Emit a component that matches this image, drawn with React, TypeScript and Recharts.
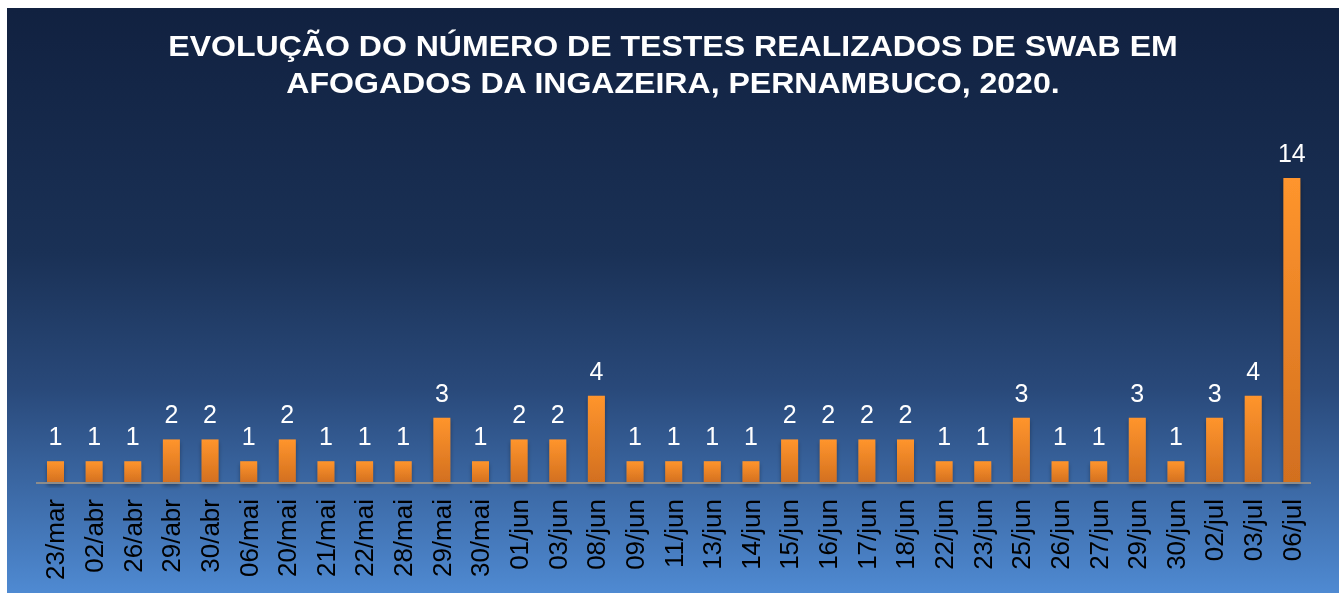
import { BarChart, Bar, XAxis, YAxis, LabelList } from 'recharts';

const dates = [
    '23/mar', '02/abr', '26/abr', '29/abr', '30/abr', '06/mai', '20/mai', '21/mai', '22/mai', '28/mai', '29/mai',
    '30/mai', '01/jun', '03/jun', '08/jun', '09/jun', '11/jun', '13/jun', '14/jun', '15/jun', '16/jun', '17/jun',
    '18/jun', '22/jun', '23/jun', '25/jun', '26/jun', '27/jun', '29/jun', '30/jun', '02/jul', '03/jul', '06/jul'
];

const testes = [1, 1, 1, 2, 2, 1, 2, 1, 1, 1, 3, 1, 2, 2, 4, 1, 1, 1, 1, 2, 2, 2, 2, 1, 1, 3, 1, 1, 3, 1, 3, 4, 14];

const data = dates.map((d, i) => ({ name: d, value: testes[i] }));

const FONT = '"Liberation Sans", Arial, sans-serif';

const DateTick = (props: any) => {
    const { x, y, payload } = props;
    return (
        <g transform={`translate(${x + 9},${y + 8}) rotate(-90)`}>
            <text textAnchor="end" fontSize={26} fill="#000" fontFamily={FONT}>
                {payload.value}
            </text>
        </g>
    );
};

const App = () => {
    return (
        <div
            style={{
                position: 'fixed',
                left: 7,
                top: 8,
                width: 1332,
                height: 585,
                background: 'linear-gradient(to bottom, #112140 0%, #1a3156 42%, #29497a 65%, #4f8ad2 100%)'
            }}
        >
            <div
                style={{
                    position: 'absolute',
                    left: 0,
                    top: 20,
                    width: 1332,
                    textAlign: 'center',
                    color: '#fff',
                    fontFamily: FONT,
                    fontWeight: 'bold',
                    fontSize: 29,
                    lineHeight: '37px',
                    transform: 'scaleX(1.105)',
                    transformOrigin: '666px 0'
                }}
            >
                EVOLUÇÃO DO NÚMERO DE TESTES REALIZADOS DE SWAB EM
                <br />
                AFOGADOS DA INGAZEIRA, PERNAMBUCO, 2020.
            </div>
            <BarChart
                width={1332}
                height={585}
                data={data}
                margin={{ top: 170, right: 28, bottom: 0, left: 29 }}
                style={{ position: 'absolute', left: 0, top: 0 }}
            >
                <defs>
                    <linearGradient id="barFill" x1="0" y1="0" x2="0" y2="1">
                        <stop offset="0%" stopColor="#ff952d" />
                        <stop offset="100%" stopColor="#d26f1f" />
                    </linearGradient>
                    <filter id="barShadow" x="-30%" y="-10%" width="160%" height="130%">
                        <feDropShadow dx="0" dy="3" stdDeviation="2" floodColor="#000" floodOpacity="0.35" />
                    </filter>
                </defs>
                <XAxis
                    dataKey="name"
                    interval={0}
                    height={110}
                    tickLine={false}
                    axisLine={{ stroke: '#8c8c8c', strokeWidth: 2 }}
                    tick={<DateTick />}
                />
                <YAxis hide domain={[0, 14]} />
                <Bar dataKey="value" fill="url(#barFill)" barSize={17} isAnimationActive={false} filter="url(#barShadow)">
                    <LabelList dataKey="value" position="top" offset={16} fill="#fff" fontSize={25} fontFamily={FONT} />
                </Bar>
            </BarChart>
        </div>
    );
};

export default App;
